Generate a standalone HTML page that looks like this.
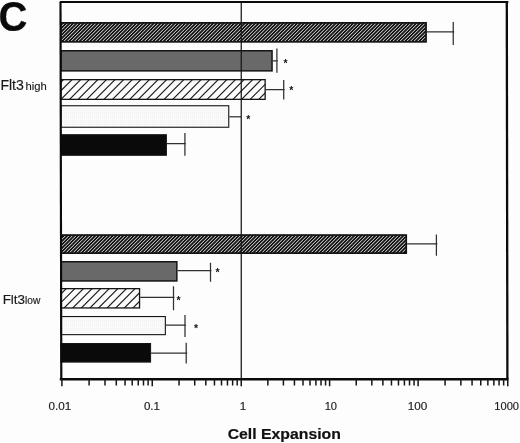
<!DOCTYPE html>
<html><head><meta charset="utf-8"><title>C</title>
<style>
html,body{margin:0;padding:0;background:#fdfdfd;}
body{width:520px;height:443px;overflow:hidden;}
svg{display:block;font-family:"Liberation Sans",Arial,Helvetica,sans-serif;}
</style></head><body>
<svg width="520" height="443" viewBox="0 0 520 443">
<defs>
<pattern id="dh" patternUnits="userSpaceOnUse" width="2.43" height="2.43" patternTransform="rotate(-45)">
<rect width="2.43" height="2.43" fill="#151515"/><rect y="0" width="2.43" height="0.9" fill="#dcdcdc"/>
</pattern>
<pattern id="lh" patternUnits="userSpaceOnUse" width="5.9" height="5.9" patternTransform="rotate(-45)">
<rect width="5.9" height="5.9" fill="#fcfcfc"/><rect y="0" width="5.9" height="1.15" fill="#222"/>
</pattern>
<pattern id="dots" patternUnits="userSpaceOnUse" width="2" height="2"><rect width="2" height="2" fill="#fafafa"/><rect width="1" height="1" fill="#f1f1f1"/></pattern>
</defs>
<rect width="520" height="443" fill="#fdfdfd"/>

<rect x="60.9" y="22.75" width="365.25" height="19.20" fill="#121212"/>
<clipPath id="c1"><rect x="60.90" y="23.50" width="364.50" height="17.70"/></clipPath><path clip-path="url(#c1)" d="M45.55 42.20L65.25 22.50M49.05 42.20L68.75 22.50M52.55 42.20L72.25 22.50M56.05 42.20L75.75 22.50M59.55 42.20L79.25 22.50M63.05 42.20L82.75 22.50M66.55 42.20L86.25 22.50M70.05 42.20L89.75 22.50M73.55 42.20L93.25 22.50M77.05 42.20L96.75 22.50M80.55 42.20L100.25 22.50M84.05 42.20L103.75 22.50M87.55 42.20L107.25 22.50M91.05 42.20L110.75 22.50M94.55 42.20L114.25 22.50M98.05 42.20L117.75 22.50M101.55 42.20L121.25 22.50M105.05 42.20L124.75 22.50M108.55 42.20L128.25 22.50M112.05 42.20L131.75 22.50M115.55 42.20L135.25 22.50M119.05 42.20L138.75 22.50M122.55 42.20L142.25 22.50M126.05 42.20L145.75 22.50M129.55 42.20L149.25 22.50M133.05 42.20L152.75 22.50M136.55 42.20L156.25 22.50M140.05 42.20L159.75 22.50M143.55 42.20L163.25 22.50M147.05 42.20L166.75 22.50M150.55 42.20L170.25 22.50M154.05 42.20L173.75 22.50M157.55 42.20L177.25 22.50M161.05 42.20L180.75 22.50M164.55 42.20L184.25 22.50M168.05 42.20L187.75 22.50M171.55 42.20L191.25 22.50M175.05 42.20L194.75 22.50M178.55 42.20L198.25 22.50M182.05 42.20L201.75 22.50M185.55 42.20L205.25 22.50M189.05 42.20L208.75 22.50M192.55 42.20L212.25 22.50M196.05 42.20L215.75 22.50M199.55 42.20L219.25 22.50M203.05 42.20L222.75 22.50M206.55 42.20L226.25 22.50M210.05 42.20L229.75 22.50M213.55 42.20L233.25 22.50M217.05 42.20L236.75 22.50M220.55 42.20L240.25 22.50M224.05 42.20L243.75 22.50M227.55 42.20L247.25 22.50M231.05 42.20L250.75 22.50M234.55 42.20L254.25 22.50M238.05 42.20L257.75 22.50M241.55 42.20L261.25 22.50M245.05 42.20L264.75 22.50M248.55 42.20L268.25 22.50M252.05 42.20L271.75 22.50M255.55 42.20L275.25 22.50M259.05 42.20L278.75 22.50M262.55 42.20L282.25 22.50M266.05 42.20L285.75 22.50M269.55 42.20L289.25 22.50M273.05 42.20L292.75 22.50M276.55 42.20L296.25 22.50M280.05 42.20L299.75 22.50M283.55 42.20L303.25 22.50M287.05 42.20L306.75 22.50M290.55 42.20L310.25 22.50M294.05 42.20L313.75 22.50M297.55 42.20L317.25 22.50M301.05 42.20L320.75 22.50M304.55 42.20L324.25 22.50M308.05 42.20L327.75 22.50M311.55 42.20L331.25 22.50M315.05 42.20L334.75 22.50M318.55 42.20L338.25 22.50M322.05 42.20L341.75 22.50M325.55 42.20L345.25 22.50M329.05 42.20L348.75 22.50M332.55 42.20L352.25 22.50M336.05 42.20L355.75 22.50M339.55 42.20L359.25 22.50M343.05 42.20L362.75 22.50M346.55 42.20L366.25 22.50M350.05 42.20L369.75 22.50M353.55 42.20L373.25 22.50M357.05 42.20L376.75 22.50M360.55 42.20L380.25 22.50M364.05 42.20L383.75 22.50M367.55 42.20L387.25 22.50M371.05 42.20L390.75 22.50M374.55 42.20L394.25 22.50M378.05 42.20L397.75 22.50M381.55 42.20L401.25 22.50M385.05 42.20L404.75 22.50M388.55 42.20L408.25 22.50M392.05 42.20L411.75 22.50M395.55 42.20L415.25 22.50M399.05 42.20L418.75 22.50M402.55 42.20L422.25 22.50M406.05 42.20L425.75 22.50M409.55 42.20L429.25 22.50M413.05 42.20L432.75 22.50M416.55 42.20L436.25 22.50M420.05 42.20L439.75 22.50M423.55 42.20L443.25 22.50" stroke="#ebebeb" stroke-width="1.0" fill="none"/>
<rect x="60.9" y="22.75" width="365.25" height="19.20" fill="none" stroke="#141414" stroke-width="1.5"/>
<path d="M426.9 31.9H454.25M453.25 22V45" stroke="#303030" stroke-width="1.25" fill="none"/>
<rect x="60.9" y="50.75" width="211.15" height="20.10" fill="#696969"/>
<rect x="60.9" y="50.75" width="211.15" height="20.10" fill="none" stroke="#141414" stroke-width="1.5"/>
<path d="M272.8 60.8H277.9M276.9 48.5V72.7" stroke="#303030" stroke-width="1.25" fill="none"/>
<text x="285.50" y="66.70" font-size="10.5" font-weight="bold" text-anchor="middle" fill="#111">*</text>
<rect x="60.9" y="79.65" width="204.25" height="19.70" fill="#fbfbfb"/>
<clipPath id="c2"><rect x="60.90" y="79.65" width="204.25" height="19.70"/></clipPath><path clip-path="url(#c2)" d="M42.75 100.35L64.45 78.65M51.35 100.35L73.05 78.65M59.95 100.35L81.65 78.65M68.55 100.35L90.25 78.65M77.15 100.35L98.85 78.65M85.75 100.35L107.45 78.65M94.35 100.35L116.05 78.65M102.95 100.35L124.65 78.65M111.55 100.35L133.25 78.65M120.15 100.35L141.85 78.65M128.75 100.35L150.45 78.65M137.35 100.35L159.05 78.65M145.95 100.35L167.65 78.65M154.55 100.35L176.25 78.65M163.15 100.35L184.85 78.65M171.75 100.35L193.45 78.65M180.35 100.35L202.05 78.65M188.95 100.35L210.65 78.65M197.55 100.35L219.25 78.65M206.15 100.35L227.85 78.65M214.75 100.35L236.45 78.65M223.35 100.35L245.05 78.65M231.95 100.35L253.65 78.65M240.55 100.35L262.25 78.65M249.15 100.35L270.85 78.65M257.75 100.35L279.45 78.65" stroke="#1c1c1c" stroke-width="1.2" fill="none"/>
<rect x="60.9" y="79.65" width="204.25" height="19.70" fill="none" stroke="#141414" stroke-width="1.3"/>
<path d="M265.8 89.5H284.7M283.7 80V99.6" stroke="#303030" stroke-width="1.25" fill="none"/>
<text x="291.30" y="94.30" font-size="10.5" font-weight="bold" text-anchor="middle" fill="#111">*</text>
<rect x="60.9" y="105.75" width="167.85" height="21.50" fill="url(#dots)"/>
<rect x="60.9" y="105.75" width="167.85" height="21.50" fill="none" stroke="#141414" stroke-width="1.1"/>
<path d="M229.3 116.8H241" stroke="#303030" stroke-width="1.25" fill="none"/>
<text x="248.20" y="122.50" font-size="10.5" font-weight="bold" text-anchor="middle" fill="#111">*</text>
<rect x="60.9" y="134.70" width="105.50" height="20.60" fill="#0a0a0a"/>
<rect x="60.9" y="134.70" width="105.50" height="20.60" fill="none" stroke="#141414" stroke-width="1.0"/>
<path d="M166.9 143.7H185.9M184.9 133V155.8" stroke="#303030" stroke-width="1.25" fill="none"/>
<rect x="60.9" y="234.95" width="345.45" height="18.30" fill="#121212"/>
<clipPath id="c3"><rect x="60.90" y="235.70" width="344.70" height="16.80"/></clipPath><path clip-path="url(#c3)" d="M44.25 253.50L63.05 234.70M47.75 253.50L66.55 234.70M51.25 253.50L70.05 234.70M54.75 253.50L73.55 234.70M58.25 253.50L77.05 234.70M61.75 253.50L80.55 234.70M65.25 253.50L84.05 234.70M68.75 253.50L87.55 234.70M72.25 253.50L91.05 234.70M75.75 253.50L94.55 234.70M79.25 253.50L98.05 234.70M82.75 253.50L101.55 234.70M86.25 253.50L105.05 234.70M89.75 253.50L108.55 234.70M93.25 253.50L112.05 234.70M96.75 253.50L115.55 234.70M100.25 253.50L119.05 234.70M103.75 253.50L122.55 234.70M107.25 253.50L126.05 234.70M110.75 253.50L129.55 234.70M114.25 253.50L133.05 234.70M117.75 253.50L136.55 234.70M121.25 253.50L140.05 234.70M124.75 253.50L143.55 234.70M128.25 253.50L147.05 234.70M131.75 253.50L150.55 234.70M135.25 253.50L154.05 234.70M138.75 253.50L157.55 234.70M142.25 253.50L161.05 234.70M145.75 253.50L164.55 234.70M149.25 253.50L168.05 234.70M152.75 253.50L171.55 234.70M156.25 253.50L175.05 234.70M159.75 253.50L178.55 234.70M163.25 253.50L182.05 234.70M166.75 253.50L185.55 234.70M170.25 253.50L189.05 234.70M173.75 253.50L192.55 234.70M177.25 253.50L196.05 234.70M180.75 253.50L199.55 234.70M184.25 253.50L203.05 234.70M187.75 253.50L206.55 234.70M191.25 253.50L210.05 234.70M194.75 253.50L213.55 234.70M198.25 253.50L217.05 234.70M201.75 253.50L220.55 234.70M205.25 253.50L224.05 234.70M208.75 253.50L227.55 234.70M212.25 253.50L231.05 234.70M215.75 253.50L234.55 234.70M219.25 253.50L238.05 234.70M222.75 253.50L241.55 234.70M226.25 253.50L245.05 234.70M229.75 253.50L248.55 234.70M233.25 253.50L252.05 234.70M236.75 253.50L255.55 234.70M240.25 253.50L259.05 234.70M243.75 253.50L262.55 234.70M247.25 253.50L266.05 234.70M250.75 253.50L269.55 234.70M254.25 253.50L273.05 234.70M257.75 253.50L276.55 234.70M261.25 253.50L280.05 234.70M264.75 253.50L283.55 234.70M268.25 253.50L287.05 234.70M271.75 253.50L290.55 234.70M275.25 253.50L294.05 234.70M278.75 253.50L297.55 234.70M282.25 253.50L301.05 234.70M285.75 253.50L304.55 234.70M289.25 253.50L308.05 234.70M292.75 253.50L311.55 234.70M296.25 253.50L315.05 234.70M299.75 253.50L318.55 234.70M303.25 253.50L322.05 234.70M306.75 253.50L325.55 234.70M310.25 253.50L329.05 234.70M313.75 253.50L332.55 234.70M317.25 253.50L336.05 234.70M320.75 253.50L339.55 234.70M324.25 253.50L343.05 234.70M327.75 253.50L346.55 234.70M331.25 253.50L350.05 234.70M334.75 253.50L353.55 234.70M338.25 253.50L357.05 234.70M341.75 253.50L360.55 234.70M345.25 253.50L364.05 234.70M348.75 253.50L367.55 234.70M352.25 253.50L371.05 234.70M355.75 253.50L374.55 234.70M359.25 253.50L378.05 234.70M362.75 253.50L381.55 234.70M366.25 253.50L385.05 234.70M369.75 253.50L388.55 234.70M373.25 253.50L392.05 234.70M376.75 253.50L395.55 234.70M380.25 253.50L399.05 234.70M383.75 253.50L402.55 234.70M387.25 253.50L406.05 234.70M390.75 253.50L409.55 234.70M394.25 253.50L413.05 234.70M397.75 253.50L416.55 234.70M401.25 253.50L420.05 234.70" stroke="#ebebeb" stroke-width="1.0" fill="none"/>
<rect x="60.9" y="234.95" width="345.45" height="18.30" fill="none" stroke="#141414" stroke-width="1.5"/>
<path d="M407.1 243.8H437.4M436.4 234.4V255.8" stroke="#303030" stroke-width="1.25" fill="none"/>
<rect x="60.9" y="261.75" width="115.95" height="19.20" fill="#696969"/>
<rect x="60.9" y="261.75" width="115.95" height="19.20" fill="none" stroke="#141414" stroke-width="1.5"/>
<path d="M177.6 270.5H211.5M210.5 262.7V281.7" stroke="#303030" stroke-width="1.25" fill="none"/>
<text x="217.50" y="276.20" font-size="10.5" font-weight="bold" text-anchor="middle" fill="#111">*</text>
<rect x="60.9" y="288.65" width="78.65" height="19.30" fill="#fbfbfb"/>
<clipPath id="c4"><rect x="60.90" y="288.65" width="78.65" height="19.30"/></clipPath><path clip-path="url(#c4)" d="M45.95 308.95L67.25 287.65M54.55 308.95L75.85 287.65M63.15 308.95L84.45 287.65M71.75 308.95L93.05 287.65M80.35 308.95L101.65 287.65M88.95 308.95L110.25 287.65M97.55 308.95L118.85 287.65M106.15 308.95L127.45 287.65M114.75 308.95L136.05 287.65M123.35 308.95L144.65 287.65M131.95 308.95L153.25 287.65" stroke="#1c1c1c" stroke-width="1.2" fill="none"/>
<rect x="60.9" y="288.65" width="78.65" height="19.30" fill="none" stroke="#141414" stroke-width="1.3"/>
<path d="M140.2 297.3H174.5M173.5 286.3V310.3" stroke="#303030" stroke-width="1.25" fill="none"/>
<text x="178.60" y="303.50" font-size="10.5" font-weight="bold" text-anchor="middle" fill="#111">*</text>
<rect x="60.9" y="316.55" width="104.45" height="18.10" fill="url(#dots)"/>
<rect x="60.9" y="316.55" width="104.45" height="18.10" fill="none" stroke="#141414" stroke-width="1.1"/>
<path d="M165.9 325H186.0M185 315V337" stroke="#303030" stroke-width="1.25" fill="none"/>
<text x="196.00" y="331.70" font-size="10.5" font-weight="bold" text-anchor="middle" fill="#111">*</text>
<rect x="60.9" y="343.50" width="89.70" height="18.60" fill="#0a0a0a"/>
<rect x="60.9" y="343.50" width="89.70" height="18.60" fill="none" stroke="#141414" stroke-width="1.0"/>
<path d="M151.1 353H187.2M186.2 342.8V363.6" stroke="#303030" stroke-width="1.25" fill="none"/>
<path d="M61.3 379.3L60.5 2.0" fill="none" stroke="#0a0a0a" stroke-width="2.15"/>
<path d="M507.4 379.3L506.8 2.0" fill="none" stroke="#0a0a0a" stroke-width="2.3"/>
<path d="M59.75 2.0H508.34999999999997" fill="none" stroke="#0a0a0a" stroke-width="1.8"/>
<path d="M59.75 379.3H508.34999999999997" fill="none" stroke="#0a0a0a" stroke-width="2.5"/>
<path d="M241.25 2.0V379.3" stroke="#161616" stroke-width="1.25"/>
<path d="M61.90 379.3V386.3M89.10 379.3V385.6M105.01 379.3V385.6M116.30 379.3V385.6M125.05 379.3V385.6M132.21 379.3V385.6M138.25 379.3V385.6M143.49 379.3V385.6M148.12 379.3V385.6M152.25 379.3V386.3M179.04 379.3V385.6M194.71 379.3V385.6M205.83 379.3V385.6M214.46 379.3V385.6M221.51 379.3V385.6M227.46 379.3V385.6M232.63 379.3V385.6M237.18 379.3V385.6M241.25 379.3V386.3M267.85 379.3V385.6M283.40 379.3V385.6M294.44 379.3V385.6M303.00 379.3V385.6M310.00 379.3V385.6M315.91 379.3V385.6M321.04 379.3V385.6M325.56 379.3V385.6M329.60 379.3V386.3M356.24 379.3V385.6M371.83 379.3V385.6M382.88 379.3V385.6M391.46 379.3V385.6M398.47 379.3V385.6M404.39 379.3V385.6M409.52 379.3V385.6M414.05 379.3V385.6M418.10 379.3V386.3M445.09 379.3V385.6M460.87 379.3V385.6M472.07 379.3V385.6M480.76 379.3V385.6M487.86 379.3V385.6M493.86 379.3V385.6M499.06 379.3V385.6M503.65 379.3V385.6M507.75 379.3V386.3" stroke="#161616" stroke-width="1.5" fill="none"/>
<text transform="translate(48.60 409.70) scale(1.0815 1)" font-size="10.8" text-anchor="start" font-weight="normal" fill="#1a1a1a" stroke="#1a1a1a" stroke-width="0.15">0.01</text>
<text transform="translate(143.95 409.70) scale(1.0694 1)" font-size="10.8" text-anchor="start" font-weight="normal" fill="#1a1a1a" stroke="#1a1a1a" stroke-width="0.15">0.1</text>
<text transform="translate(239.67 409.70) scale(1.0741 1)" font-size="10.8" text-anchor="start" font-weight="normal" fill="#1a1a1a" stroke="#1a1a1a" stroke-width="0.15">1</text>
<text transform="translate(324.70 409.70) scale(1.0278 1)" font-size="10.8" text-anchor="start" font-weight="normal" fill="#1a1a1a" stroke="#1a1a1a" stroke-width="0.15">10</text>
<text transform="translate(407.74 409.70) scale(1.0833 1)" font-size="10.8" text-anchor="start" font-weight="normal" fill="#1a1a1a" stroke="#1a1a1a" stroke-width="0.15">100</text>
<text transform="translate(494.30 409.70) scale(1.0278 1)" font-size="10.8" text-anchor="start" font-weight="normal" fill="#1a1a1a" stroke="#1a1a1a" stroke-width="0.15">1000</text>
<text transform="translate(-1.60 30.90) scale(0.95 1)" font-size="42.2" text-anchor="start" font-weight="bold" fill="#0a0a0a" stroke="#0a0a0a" stroke-width="0.2">C</text>
<text transform="translate(0.40 89.80) scale(1.02 1)" font-size="13.8" text-anchor="start" font-weight="normal" fill="#1a1a1a" stroke="#1a1a1a" stroke-width="0.15">Flt3</text>
<text transform="translate(25.40 89.80) scale(1.05 1)" font-size="10.7" text-anchor="start" font-weight="normal" fill="#1a1a1a" stroke="#1a1a1a" stroke-width="0.15">high</text>
<text transform="translate(2.65 303.60) scale(0.98 1)" font-size="13.7" text-anchor="start" font-weight="normal" fill="#1a1a1a" stroke="#1a1a1a" stroke-width="0.15">Flt3</text>
<text transform="translate(25.00 303.60) scale(1.015 1)" font-size="10.05" text-anchor="start" font-weight="normal" fill="#1a1a1a" stroke="#1a1a1a" stroke-width="0.15">low</text>
<text transform="translate(227.70 438.80) scale(1.046 1)" font-size="15.1" text-anchor="start" font-weight="bold" fill="#111" stroke="#111" stroke-width="0.2">Cell Expansion</text>
</svg></body></html>
